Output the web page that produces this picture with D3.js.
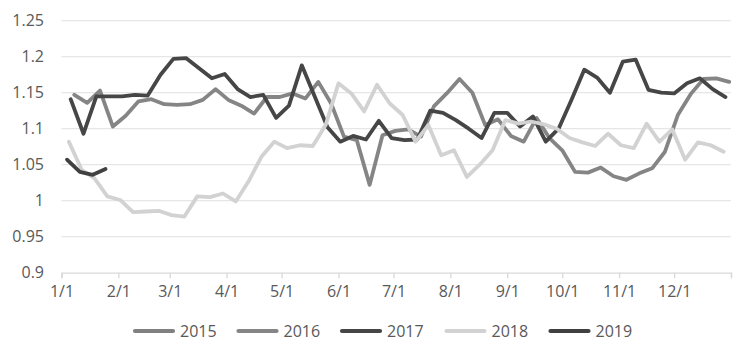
<!DOCTYPE html>
<html>
<head>
<meta charset="utf-8">
<script src="https://cdn.jsdelivr.net/npm/d3@7"></script>
<style>
  html, body { margin: 0; padding: 0; background: #fff; }
  svg { display: block; }
  text { font-family: "Open Sans", "Noto Sans", sans-serif; fill: #595959; }
</style>
</head>
<body>
<svg id="chart" width="741" height="358"></svg>
<script>
// ---- data ----
const monthLabels = ["1/1","2/1","3/1","4/1","5/1","6/1","7/1","8/1","9/1","10/1","11/1","12/1"];
const monthStartDays = [0,31,59,90,120,151,181,212,243,273,304,334];
const yearDays = 365;
const yTicks = [0.9,0.95,1,1.05,1.1,1.15,1.2,1.25];
const yTickLabels = ["0.9","0.95","1","1.05","1.1","1.15","1.2","1.25"];

const seriesNames = ["2015","2016","2017","2018","2019"];
// day-of-year (0 = Jan 1) of each series' first weekly observation
const firstDay = [1, 7, 5, 4, 3];

const v2015 = [];
const v2016 = [1.147,1.136,1.153,1.103,1.118,1.138,1.141,1.134,1.133,1.134,1.140,1.155,1.140,1.132,1.121,1.144,
  1.144,1.149,1.142,1.165,1.135,1.089,1.084,1.022,1.091,1.097,1.099,1.089,1.131,1.149,1.169,1.150,1.105,1.113,
  1.090,1.082,1.115,1.087,1.070,1.040,1.039,1.046,1.034,1.029,1.038,1.045,1.068,1.119,1.148,1.169,1.170,1.165];
const v2017 = [1.141,1.093,1.145,1.145,1.145,1.147,1.146,1.175,1.197,1.198,1.184,1.170,1.176,1.155,1.144,1.147,
  1.115,1.132,1.188,1.145,1.102,1.082,1.090,1.085,1.111,1.087,1.084,1.085,1.125,1.122,1.112,1.100,1.087,1.122,
  1.122,1.103,1.117,1.082,1.100,1.140,1.182,1.171,1.150,1.193,1.196,1.154,1.150,1.149,1.163,1.170,1.155,1.144];
const v2018 = [1.082,1.043,1.031,1.006,1.001,0.984,0.985,0.986,0.980,0.978,1.006,1.005,1.010,0.999,1.027,1.061,
  1.082,1.073,1.077,1.076,1.105,1.163,1.149,1.124,1.161,1.135,1.119,1.082,1.105,1.063,1.070,1.033,1.050,1.070,
  1.112,1.107,1.110,1.106,1.100,1.087,1.081,1.076,1.093,1.077,1.073,1.107,1.082,1.099,1.057,1.081,1.077,1.068];
const v2019 = [1.057,1.040,1.036,1.044];

const seriesValues = [v2015, v2016, v2017, v2018, v2019];
const seriesColors = ["#808080","#858585","#464646","#d2d2d2","#404040"];

// ---- layout ----
const svg = d3.select("#chart");
const margin = { left: 61.5, right: 10, top: 20.7, bottom: 85.3 };
const W = 741, H = 358;

const x = d3.scaleLinear().domain([0, yearDays]).range([margin.left, 731]);
const y = d3.scaleLinear().domain([0.9, 1.25]).range([272.7, margin.top]);

// gridlines
svg.append("g").selectAll("line").data(yTicks.slice(1)).join("line")
  .attr("x1", x(0)).attr("x2", x(yearDays))
  .attr("y1", d => y(d)).attr("y2", d => y(d))
  .attr("stroke", "#e6e6e6").attr("stroke-width", 1.3);

// y labels
svg.append("g").selectAll("text").data(yTicks).join("text")
  .attr("x", 44).attr("y", d => y(d)).attr("dy", "0.36em")
  .attr("text-anchor", "end").attr("font-size", 16)
  .text((d, i) => yTickLabels[i]);

// x axis
const xAxis = d3.axisBottom(x)
  .tickValues(monthStartDays.concat([yearDays]))
  .tickSize(5.5)
  .tickFormat(d => { const i = monthStartDays.indexOf(d); return i >= 0 ? monthLabels[i] : ""; });
const gx = svg.append("g").attr("transform", `translate(0,${y(0.9)})`).call(xAxis);
gx.select(".domain").attr("stroke", "#d9d9d9").attr("stroke-width", 1.3);
gx.selectAll(".tick line").attr("stroke", "#d9d9d9").attr("stroke-width", 1.3);
gx.selectAll(".tick text").attr("font-size", 16).attr("fill", "#595959")
  .attr("font-family", "\"Open Sans\", \"Noto Sans\", sans-serif")
  .attr("y", 13).attr("dy", "0.71em");

// lines
const line = d3.line()
  .x(d => x(d.day))
  .y(d => y(d.v));

seriesNames.forEach((name, s) => {
  const pts = seriesValues[s].map((v, i) => ({ day: firstDay[s] + 7 * i, v }));
  if (!pts.length) return;
  svg.append("path").datum(pts)
    .attr("fill", "none")
    .attr("stroke", seriesColors[s])
    .attr("stroke-width", 3.8)
    .attr("stroke-linejoin", "round")
    .attr("stroke-linecap", "round")
    .attr("d", line);
});

// legend
const legendX = [133, 236.5, 340, 444.5, 548.5];
const legendY = 331;
const lg = svg.append("g");
seriesNames.forEach((name, s) => {
  lg.append("line")
    .attr("x1", legendX[s] + 2).attr("x2", legendX[s] + 40)
    .attr("y1", legendY).attr("y2", legendY)
    .attr("stroke", seriesColors[s]).attr("stroke-width", 4.2)
    .attr("stroke-linecap", "round");
  lg.append("text")
    .attr("x", legendX[s] + 47).attr("y", legendY).attr("dy", "0.36em")
    .attr("font-size", 16)
    .text(name);
});
</script>
</body>
</html>
